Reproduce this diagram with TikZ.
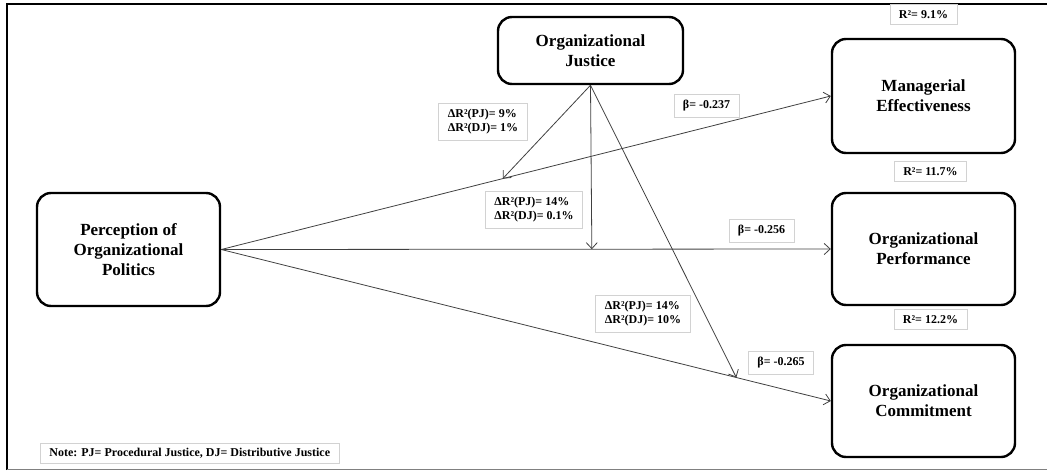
\documentclass[tikz,border=0pt]{standalone}
\usepackage{fontspec}
\setmainfont{Liberation Serif}
\usepackage{tikz}
\usetikzlibrary{arrows.meta,positioning,calc}

\begin{document}
\begin{tikzpicture}[
  x=1pt,y=-1pt,
  node distance=12pt,
  box/.style={draw,line width=2.4pt,rounded corners=14pt,align=center,
              minimum width=183pt,font=\bfseries\fontsize{17}{20}\selectfont},
  lbl/.style={draw=gray!35,line width=0.8pt,fill=white,align=left,inner xsep=9pt,
              inner ysep=6pt,font=\bfseries\fontsize{12}{14}\selectfont},
  ar/.style={-{Straight Barb[length=6pt,width=11pt]},line width=0.8pt,draw=black!75}
]
\useasboundingbox (0,0) rectangle (1047,474);
\draw[line width=2.4pt] (7,470) -- (7,4) -- (1047,4);
\draw[gray,line width=1pt] (7,469) -- (1047,469);

\node[box,minimum height=113pt] (pop) at (128.5,249.5) {Perception of\\Organizational\\Politics};
\node[box,minimum width=185pt,minimum height=67pt] (oj) at (590.5,50.5) {Organizational\\Justice};
\node[box,minimum height=114pt] (me) at (923.5,96) {Managerial\\Effectiveness};
\node[box,minimum height=112pt] (op) at (923.5,249) {Organizational\\Performance};
\node[box,minimum height=112pt] (oc) at (923.5,401) {Organizational\\Commitment};

\node[lbl,above=13pt of me] (r1) {R²= 9.1\%};
\node[lbl,above=10pt of op,xshift=7pt] (r2) {R²= 11.7\%};
\node[lbl,above=14pt of oc,xshift=7pt] (r3) {R²= 12.2\%};

\draw[ar] (pop.east) -- (me.west);
\draw[ar] (pop.east) -- (op.west);
\draw[ar] (pop.east) -- (oc.west);

\coordinate (m1) at ($(pop.east)!0.462!(me.west)$);
\coordinate (m2) at ($(pop.east)!0.608!(op.west)$);
\coordinate (m3) at ($(pop.east)!0.845!(oc.west)$);
\draw[ar] (oj.south) -- (m1);
\draw[ar] (oj.south) -- (m2);
\draw[ar] (oj.south) -- (m3);

\node[lbl] (d1) at (483,121.5) {ΔR²(PJ)= 9\%\\ΔR²(DJ)= 1\%};
\node[lbl] (d2) at (534,210) {ΔR²(PJ)= 14\%\\ΔR²(DJ)= 0.1\%};
\node[lbl] (d3) at (643,314) {ΔR²(PJ)= 14\%\\ΔR²(DJ)= 10\%};
\node[lbl] (b1) at (706.5,105.5) {β= -0.237};
\node[lbl] (b2) at (761.5,231) {β= -0.256};
\node[lbl] (b3) at (781,362.5) {β= -0.265};

\node[lbl,anchor=west,inner ysep=5pt] (note) at (40,453.5)
  {Note: PJ= Procedural Justice, DJ= Distributive Justice};
\end{tikzpicture}
\end{document}
